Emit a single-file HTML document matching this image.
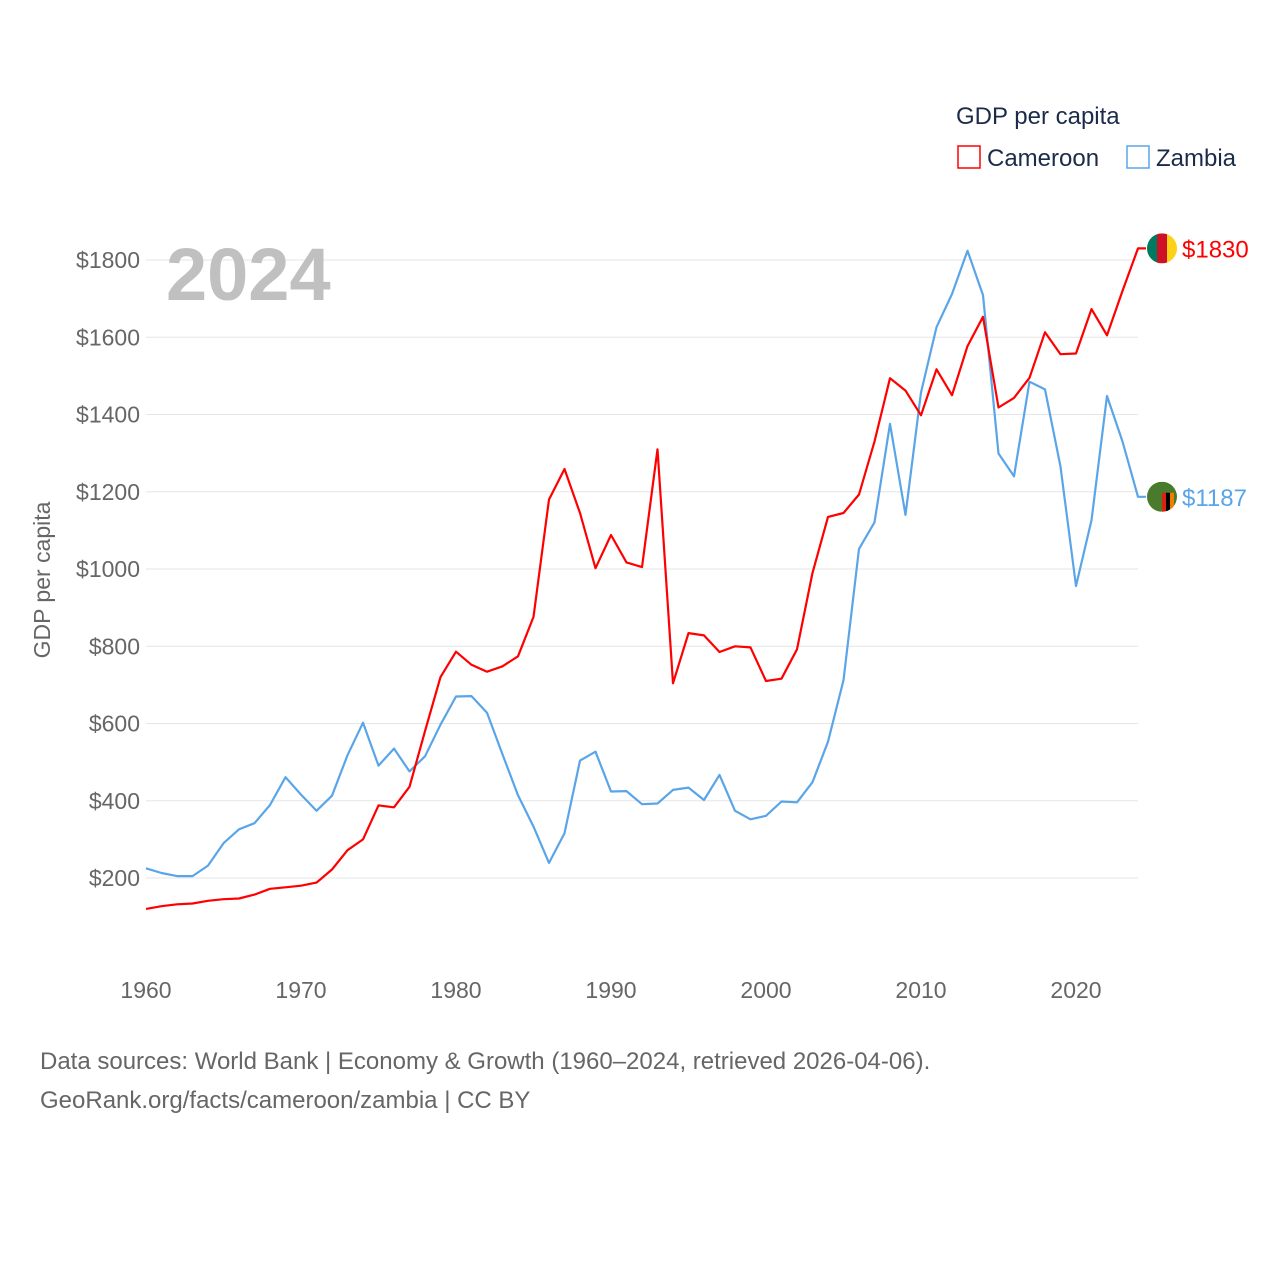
<!DOCTYPE html>
<html><head><meta charset="utf-8">
<style>
html,body{margin:0;padding:0;background:#fff;}
body{width:1280px;height:1280px;overflow:hidden;font-family:"Liberation Sans",sans-serif;}
</style></head>
<body>
<svg id="chart" width="1280" height="1280" xmlns="http://www.w3.org/2000/svg" font-family="Liberation Sans, sans-serif">
  <g id="grid"></g>
  <g id="yticks"></g>
  <g id="xticks"></g>
  <text x="166" y="300" font-size="74" font-weight="bold" fill="#c0c0c0">2024</text>
  <text transform="translate(50,580) rotate(-90)" text-anchor="middle" font-size="23" fill="#666">GDP per capita</text>
  <g id="series"></g>
  <g>
    <text x="956" y="124" font-size="24" fill="#1c2b4a">GDP per capita</text>
    <g>
      <rect x="958" y="146" width="22" height="22" fill="none" stroke="#ff0000" stroke-width="1.5"/>
      <text x="987" y="166" font-size="24" fill="#1c2b4a">Cameroon</text>
    </g>
    <g>
      <rect x="1127" y="146" width="22" height="22" fill="none" stroke="#5aa5e8" stroke-width="1.5"/>
      <text x="1156" y="166" font-size="24" fill="#1c2b4a">Zambia</text>
    </g>
  </g>
  <text x="40" y="1069" font-size="24" fill="#666">Data sources: World Bank | Economy &amp; Growth (1960–2024, retrieved 2026-04-06).</text>
  <text x="40" y="1108" font-size="24" fill="#666">GeoRank.org/facts/cameroon/zambia | CC BY</text>
</svg>
<script>
const years = [];
for (let y = 1960; y <= 2024; y++) years.push(y);
const cameroon = [120,127,132,134,141,145,147,157,172,176,180,188,222,272,300,388,383,436,580,720,786,752,734,748,774,876,1180,1259,1145,1002,1088,1017,1005,1310,704,834,828,785,800,797,710,716,792,990,1135,1145,1193,1330,1494,1462,1398,1517,1450,1577,1653,1418,1443,1495,1613,1556,1558,1673,1605,1720,1830];
const zambia = [225,213,205,205,232,290,326,342,389,461,416,374,413,518,602,491,535,476,515,597,670,671,628,520,414,333,239,316,504,527,424,425,391,393,428,434,402,467,374,352,361,398,396,448,553,712,1052,1121,1376,1140,1457,1626,1712,1824,1709,1299,1240,1485,1465,1265,956,1126,1448,1330,1187];
const yTicks = [200,400,600,800,1000,1200,1400,1600,1800];
const xTicks = [1960,1970,1980,1990,2000,2010,2020];

const NS = "http://www.w3.org/2000/svg";
function xs(yr){ return 146 + (yr - 1960) * 15.5; }
function ys(v){ return 878 - (v - 200) * 0.38625; }
function mk(tag, attrs, parent){ const e = document.createElementNS(NS, tag); for (const k in attrs) e.setAttribute(k, attrs[k]); parent.appendChild(e); return e; }

const grid = document.getElementById('grid'), yt = document.getElementById('yticks'), xt = document.getElementById('xticks'), ser = document.getElementById('series');
yTicks.forEach(v => {
  const l = mk('line', {x1:146, x2:1138, y1:ys(v), y2:ys(v), stroke:'#e6e6e6', 'stroke-width':1}, grid);
  
  
  const t = mk('text', {x:140, y:ys(v)+8, 'text-anchor':'end', 'font-size':23, fill:'#666'}, yt);
  t.textContent = '$' + v;
  
  
});
xTicks.forEach(yr => {
  const t = mk('text', {x:xs(yr), y:998, 'text-anchor':'middle', 'font-size':23, fill:'#666'}, xt);
  t.textContent = yr;
  
  
});

function drawSeries(vals, color, name, flagColors){
  const pts = vals.map((v,i) => xs(years[i]).toFixed(1) + ',' + ys(v).toFixed(1));
  const last = vals[vals.length-1];
  pts.push((xs(2024)+8) + ',' + ys(last).toFixed(1));
  const p = mk('polyline', {points: pts.join(' '), fill:'none', stroke:color, 'stroke-width':2.2, 'stroke-linejoin':'round'}, ser);
  
  
  const cy = ys(last);
  const g = mk('g', {}, ser);
  
  
  const cp = mk('clipPath', {id:'clip-' + name}, g);
  mk('circle', {cx:1162, cy:cy, r:15}, cp);
  const gg = mk('g', {'clip-path':'url(#clip-' + name + ')'}, g);
  if (name === 'cameroon') {
    mk('rect', {x:1147, y:cy-15, width:10, height:30, fill:'#007a5e'}, gg);
    mk('rect', {x:1157, y:cy-15, width:10, height:30, fill:'#ce1126'}, gg);
    mk('rect', {x:1167, y:cy-15, width:10, height:30, fill:'#fcd116'}, gg);
  } else {
    mk('rect', {x:1147, y:cy-15, width:30, height:30, fill:'#4a7a2c'}, gg);
    mk('rect', {x:1162, y:cy-4, width:4, height:19, fill:'#de2010'}, gg);
    mk('rect', {x:1166, y:cy-4, width:4, height:19, fill:'#000'}, gg);
    mk('rect', {x:1170, y:cy-4, width:4, height:19, fill:'#ef7d00'}, gg);
  }
  const t = mk('text', {x:1182, y:cy+9, 'font-size':24, fill:color}, ser);
  t.textContent = '$' + last;
  
  
}
drawSeries(zambia, '#5aa5e8', 'zambia');
drawSeries(cameroon, '#ff0000', 'cameroon');
</script>
</body></html>
